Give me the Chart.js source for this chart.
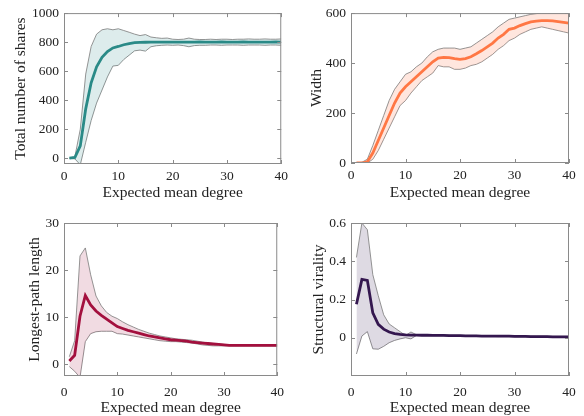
<!DOCTYPE html>
<html>
<head>
<meta charset="utf-8">
<script src="https://cdn.jsdelivr.net/npm/chart.js@4.4.1/dist/chart.umd.min.js"></script>
<style>
  body { margin: 0; background: #fff; }
  .cell { position: absolute; width: 292px; height: 208px; }
</style>
</head>
<body>
<div class="cell" style="left:0;top:0"><canvas id="c1" width="292" height="208"></canvas></div>
<div class="cell" style="left:292px;top:0"><canvas id="c2" width="292" height="208"></canvas></div>
<div class="cell" style="left:0;top:208px"><canvas id="c3" width="292" height="208"></canvas></div>
<div class="cell" style="left:292px;top:208px"><canvas id="c4" width="292" height="208"></canvas></div>
<script>
const degrees = [1,2,3,4,5,6,7,8,9,10,11,12,13,14,15,16,17,18,19,20,21,22,23,24,25,26,27,28,29,30,31,32,33,34,35,36,37,38,39,40]
const xTicks = [0, 10, 20, 30, 40]

// total number of shares
const sharesMean  = [0,5,85,340,520,630,695,735,760,770,782,790,796,798,799,800,800,800,800,800,800,800,800,800,801,800,800,800,801,800,800,800,801,800,800,800,800,800,801,800]
const sharesUpper = [0,10,200,580,770,855,885,892,885,892,880,868,855,845,852,835,830,826,828,820,818,820,828,820,818,818,820,818,820,820,818,820,820,822,820,820,822,820,820,822]
const sharesLower = [0,-5,-45,110,260,380,470,560,635,640,680,710,740,745,738,768,775,778,780,778,780,776,768,776,778,778,780,780,778,780,780,780,778,780,780,780,778,780,780,778]
const sharesTicks = [0, 200, 400, 600, 800, 1000]

// width
const widthMean  = [0,0,5,40,90,140,190,240,280,305,325,345,365,385,405,420,423,422,418,415,418,425,437,450,465,480,500,515,535,540,550,558,565,568,570,570,569,566,563,560]
const widthUpper = [0,3,15,70,130,190,250,295,325,355,365,385,400,425,445,455,460,460,460,455,460,465,480,495,510,525,545,560,575,580,585,590,595,598,600,600,600,600,600,600]
const widthLower = [0,0,0,15,50,95,140,185,230,250,280,305,330,345,360,390,385,385,375,375,380,390,395,405,420,435,455,470,490,500,515,525,535,540,545,540,535,530,525,520]
const widthTicks = [0, 200, 400, 600]

// longest-path length
const pathMean  = [0.7,1.9,10.2,14.6,12.6,11.3,10.4,9.6,8.8,8.0,7.6,7.2,6.9,6.6,6.3,6.0,5.8,5.6,5.4,5.2,5.1,5.0,4.9,4.7,4.6,4.5,4.4,4.3,4.2,4.1,4.0,4.0,4.0,4.0,4.0,4.0,4.0,4.0,4.0,4.0]
const pathUpper = [1.6,5,23,24.7,19,14.5,12.4,11.0,10.2,9.7,9.0,8.4,7.9,7.4,7.0,6.6,6.3,6.0,5.8,5.6,5.4,5.3,5.2,5.1,4.9,4.7,4.5,4.4,4.3,4.2,4.1,4.1,4.1,4.1,4.1,4.1,4.1,4.1,4.1,4.1]
const pathLower = [-0.5,-1.5,-2.8,4.8,6.5,6.9,7.0,7.0,7.0,6.5,6.4,6.2,6.0,5.8,5.6,5.4,5.2,5.0,4.9,4.8,4.8,4.7,4.6,4.5,4.3,4.1,4.0,3.9,3.9,3.9,3.9,3.9,3.9,3.9,3.9,3.9,3.9,3.9,3.9,3.9]
const pathTicks = [0, 10, 20, 30]

// structural virality
const viralMean  = [0.175,0.305,0.300,0.130,0.070,0.045,0.030,0.022,0.018,0.015,0.014,0.014,0.013,0.013,0.012,0.012,0.012,0.011,0.011,0.011,0.010,0.010,0.010,0.009,0.009,0.009,0.008,0.008,0.008,0.007,0.007,0.007,0.006,0.006,0.006,0.006,0.005,0.005,0.005,0.005]
const viralUpper = [0.42,0.60,0.565,0.33,0.22,0.12,0.072,0.052,0.032,0.012,0.030,0.016,0.015,0.015,0.014,0.014,0.014,0.013,0.013,0.013,0.012,0.012,0.012,0.011,0.011,0.011,0.010,0.010,0.010,0.009,0.009,0.009,0.008,0.008,0.008,0.008,0.007,0.007,0.007,0.007]
const viralLower = [-0.085,0.009,0.032,-0.058,-0.060,-0.045,-0.026,-0.014,-0.006,0.000,-0.006,0.012,0.011,0.011,0.010,0.010,0.010,0.009,0.009,0.009,0.008,0.008,0.008,0.007,0.007,0.007,0.006,0.006,0.006,0.005,0.005,0.005,0.004,0.004,0.004,0.004,0.003,0.003,0.003,0.003]
const viralTicks = [0, 0.2, 0.4, 0.6]

const FONT = "'Liberation Serif', 'Times New Roman', serif"

// matlab-ish box with inward ticks
const boxTicks = {
  id: "boxTicks",
  afterDatasetsDraw(chart) {
    const { ctx, chartArea: a, scales: { x, y } } = chart
    ctx.save()
    ctx.strokeStyle = "#8a8a8a"
    ctx.lineWidth = 1
    ctx.strokeRect(a.left + 0.5, a.top + 0.5, a.width - 1, a.height - 1)
    ctx.beginPath()
    x.ticks.forEach(t => {
      const px = Math.round(x.getPixelForValue(t.value)) + 0.5
      ctx.moveTo(px, a.bottom); ctx.lineTo(px, a.bottom - 4)
      ctx.moveTo(px, a.top); ctx.lineTo(px, a.top + 4)
    })
    y.ticks.forEach(t => {
      const py = Math.round(y.getPixelForValue(t.value)) + 0.5
      ctx.moveTo(a.left, py); ctx.lineTo(a.left + 4, py)
      ctx.moveTo(a.right, py); ctx.lineTo(a.right - 4, py)
    })
    ctx.stroke()
    ctx.restore()
  }
}

const pts = arr => arr.map((v, i) => ({ x: degrees[i], y: v }))

function makePanel(id, cfg) {
  new Chart(document.getElementById(id), {
    type: "line",
    data: {
      datasets: [
        { data: pts(cfg.mean), borderColor: cfg.line, borderWidth: 2.8, pointRadius: 0, fill: false, tension: 0 },
        { data: pts(cfg.upper), borderColor: "#7a7a7a", borderWidth: 0.8, pointRadius: 0, backgroundColor: cfg.band, fill: "+1", tension: 0 },
        { data: pts(cfg.lower), borderColor: "#7a7a7a", borderWidth: 0.8, pointRadius: 0, fill: false, tension: 0 }
      ]
    },
    options: {
      responsive: false,
      animation: false,
      layout: { padding: { top: cfg.top, right: cfg.right, left: 0, bottom: 0 } },
      plugins: { legend: { display: false }, tooltip: { enabled: false } },
      scales: {
        x: {
          type: "linear", min: 0, max: 40,
          grid: { display: false, drawTicks: false }, border: { display: false },
          afterBuildTicks: s => { s.ticks = xTicks.map(v => ({ value: v })) },
          afterFit: s => { s.height = cfg.bottomH },
          ticks: { color: "#222", padding: cfg.xTickPad, font: { family: FONT, size: 13.5 }, maxRotation: 0, callback: v => String(v) },
          title: { display: true, text: "Expected mean degree", color: "#222", font: { family: FONT, size: 15.5, lineHeight: 1 }, padding: { top: 0, bottom: cfg.xTitlePad } }
        },
        y: {
          min: cfg.ymin, max: cfg.ymax,
          grid: { display: false, drawTicks: false }, border: { display: false },
          afterBuildTicks: s => { s.ticks = cfg.yTicks.map(v => ({ value: v })) },
          afterFit: s => { s.width = cfg.leftW },
          ticks: { color: "#222", padding: 5, font: { family: FONT, size: 13.5 }, callback: v => String(v) },
          title: { display: true, text: cfg.ylabel, color: "#222", font: { family: FONT, size: 15.5, lineHeight: 1 }, padding: { top: cfg.yTitlePad, bottom: 0 } }
        }
      }
    },
    plugins: [boxTicks]
  })
}

makePanel("c1", {
  mean: sharesMean, upper: sharesUpper, lower: sharesLower,
  line: "#2a8a87", band: "rgba(42,138,135,0.16)",
  ymin: -40, ymax: 1000, yTicks: sharesTicks, ylabel: "Total number of shares",
  top: 11, right: 9, leftW: 64, bottomH: 44, xTickPad: 4, xTitlePad: 7, yTitlePad: 13
})
makePanel("c2", {
  mean: widthMean, upper: widthUpper, lower: widthLower,
  line: "#ff7744", band: "rgba(255,130,90,0.2)",
  ymin: 0, ymax: 600, yTicks: widthTicks, ylabel: "Width",
  top: 11, right: 15, leftW: 59, bottomH: 45, xTickPad: 4, xTitlePad: 7, yTitlePad: 17
})
makePanel("c3", {
  mean: pathMean, upper: pathUpper, lower: pathLower,
  line: "#a3103e", band: "rgba(163,16,62,0.15)",
  ymin: -2.5, ymax: 30, yTicks: pathTicks, ylabel: "Longest-path length",
  top: 15, right: 9, leftW: 64, bottomH: 40, xTickPad: 8, xTitlePad: 0, yTitlePad: 27
})
makePanel("c4", {
  mean: viralMean, upper: viralUpper, lower: viralLower,
  line: "#34174f", band: "rgba(52,23,79,0.16)",
  ymin: -0.2, ymax: 0.6, yTicks: viralTicks, ylabel: "Structural virality",
  top: 15, right: 15, leftW: 59, bottomH: 40, xTickPad: 8, xTitlePad: 0, yTitlePad: 19
})
</script>
</body>
</html>
